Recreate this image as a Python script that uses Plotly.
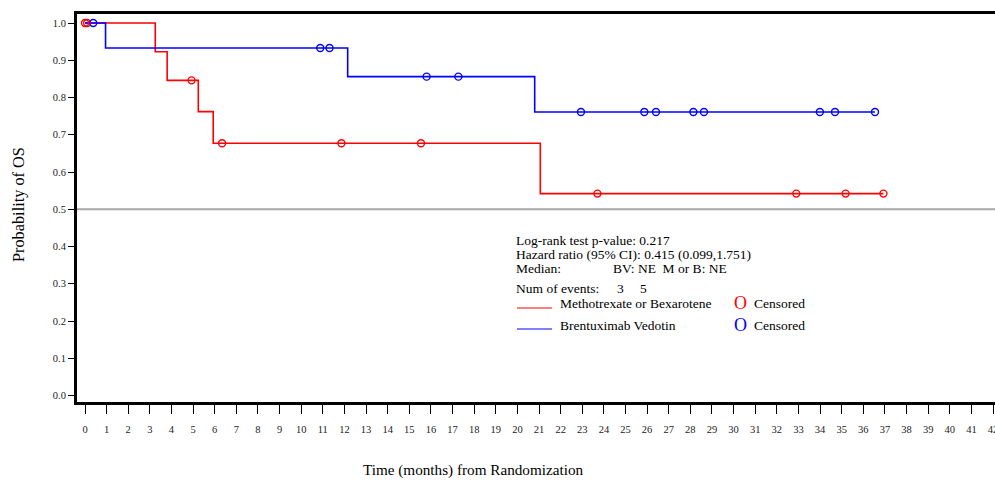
import plotly.graph_objects as go

# Kaplan-Meier step curves: time (months) and survival probability
mb_time = [0, 3.25, 3.8, 5.24, 5.93, 21.06, 36.93]
mb_surv = [1.0, 0.923, 0.846, 0.762, 0.677, 0.542, 0.542]
bv_time = [0, 0.95, 12.15, 20.8, 36.54]
bv_surv = [1.0, 0.933, 0.856, 0.761, 0.761]

# Censored observations
mb_cens_time = [0.0, 0.1, 4.93, 6.34, 11.86, 15.54, 23.7, 32.9, 35.18, 36.93]
mb_cens_surv = [1.0, 1.0, 0.846, 0.677, 0.677, 0.677, 0.542, 0.542, 0.542, 0.542]
bv_cens_time = [0.38, 10.88, 11.31, 15.8, 17.27, 22.94, 25.87, 26.41, 28.14, 28.63,
                33.99, 34.69, 36.54]
bv_cens_surv = [1.0, 0.933, 0.933, 0.856, 0.856, 0.761, 0.761, 0.761, 0.761, 0.761,
                0.761, 0.761, 0.761]

x_ticks = list(range(0, 43))
y_ticks = [i / 10 for i in range(0, 11)]

stats_lines = [
    "Log-rank test p-value: 0.217",
    "Hazard ratio (95% CI): 0.415 (0.099,1.751)",
]
median_label = "Median:"
median_value = "BV: NE  M or B: NE"
events_label = "Num of events:"
events_counts = ["3", "5"]
group_names = ["Methotrexate or Bexarotene", "Brentuximab Vedotin"]
censor_label = "Censored"

RED = "#ff0000"
BLUE = "#0000ff"
FONT = "Liberation Serif"

W, H = 995, 482
ML, MT, MR, MB = 77, 14, 0, 80
PW, PH = W - ML - MR, H - MT - MB

# pixel calibration of the axes
x0_px, px_per_month = 85.0, 21.62
y1_px, y0_px = 23.0, 395.5
per_unit = (y0_px - y1_px)
x_range = [(ML - x0_px) / px_per_month, (W - MR - x0_px) / px_per_month]
y_range = [-(MT + PH - y0_px) / per_unit, 1.0 + (y1_px - MT) / per_unit]


def px(x, y):
    return (x - ML) / PW, 1 - (y - MT) / PH


fig = go.Figure()

fig.add_trace(go.Scatter(x=mb_time, y=mb_surv, mode="lines", line_shape="hv",
                         line=dict(color=RED, width=1.6), showlegend=False))
fig.add_trace(go.Scatter(x=bv_time, y=bv_surv, mode="lines", line_shape="hv",
                         line=dict(color=BLUE, width=1.6), showlegend=False))
fig.add_trace(go.Scatter(x=mb_cens_time, y=mb_cens_surv, mode="markers",
                         marker=dict(symbol="circle-open", size=7, color=RED,
                                     line=dict(width=1.4)), showlegend=False))
fig.add_trace(go.Scatter(x=bv_cens_time, y=bv_cens_surv, mode="markers",
                         marker=dict(symbol="circle-open", size=7, color=BLUE,
                                     line=dict(width=1.4)), showlegend=False))

# median reference line
fig.add_shape(type="line", xref="paper", yref="y", x0=0, x1=1, y0=0.5, y1=0.5,
              line=dict(color="#a8a8a8", width=2), layer="below")

annotations = []


def add_text(text, xp, yp, size=13.5, color="black"):
    ax, ay = px(xp, yp)
    annotations.append(dict(text=text, x=ax, y=ay, xref="paper", yref="paper",
                            xanchor="left", yanchor="middle", showarrow=False,
                            borderpad=0,
                            font=dict(family=FONT, size=size, color=color)))


add_text(stats_lines[0], 515, 240)
add_text(stats_lines[1], 515, 254)
add_text(median_label, 515, 268)
add_text(median_value, 612, 268)
add_text(events_label, 515, 288)
add_text(events_counts[0], 616, 288)
add_text(events_counts[1], 639, 288)
add_text(group_names[0], 559, 303)
add_text(group_names[1], 559, 325)
add_text("O", 733, 303, size=18, color=RED)
add_text("O", 733, 325, size=18, color=BLUE)
add_text(censor_label, 753, 303)
add_text(censor_label, 753, 325)

for yy, col in [(308, RED), (329, BLUE)]:
    xa, ya = px(517, yy)
    xb, _ = px(552, yy)
    fig.add_shape(type="line", xref="paper", yref="paper", x0=xa, x1=xb, y0=ya, y1=ya,
                  line=dict(color=col, width=1))

# axis titles
tx, ty = px(473, 470)
annotations.append(dict(text="Time (months) from Randomization", x=tx, y=ty,
                        xref="paper", yref="paper", xanchor="center", yanchor="middle",
                        showarrow=False, font=dict(family=FONT, size=15.2, color="black")))
tx, ty = px(18, 205)
annotations.append(dict(text="Probability of OS", x=tx, y=ty, textangle=-90,
                        xref="paper", yref="paper", xanchor="center", yanchor="middle",
                        showarrow=False, font=dict(family=FONT, size=16.3, color="black")))

fig.update_layout(
    width=W, height=H,
    margin=dict(l=ML, r=MR, t=MT, b=MB, autoexpand=False),
    plot_bgcolor="white", paper_bgcolor="white",
    annotations=annotations,
    xaxis=dict(range=x_range, tickvals=x_ticks, ticktext=[str(v) for v in x_ticks],
               automargin=False,
               showgrid=False, zeroline=False, showline=True, mirror=True,
               linecolor="black", linewidth=3, ticks="outside", ticklen=9,
               tickwidth=1.3, tickcolor="black", ticklabelstandoff=6,
               ticklabeloverflow="allow",
               tickfont=dict(family=FONT, size=10.5, color="#222")),
    yaxis=dict(range=y_range, tickvals=y_ticks, ticktext=[f"{v:.1f}" for v in y_ticks],
               automargin=False,
               showgrid=False, zeroline=False, showline=True, mirror=False,
               linecolor="black", linewidth=3, ticks="outside", ticklen=6,
               tickwidth=1.3, tickcolor="black",
               tickfont=dict(family=FONT, size=10.5, color="#222")),
)

fig.write_html("out.html")
